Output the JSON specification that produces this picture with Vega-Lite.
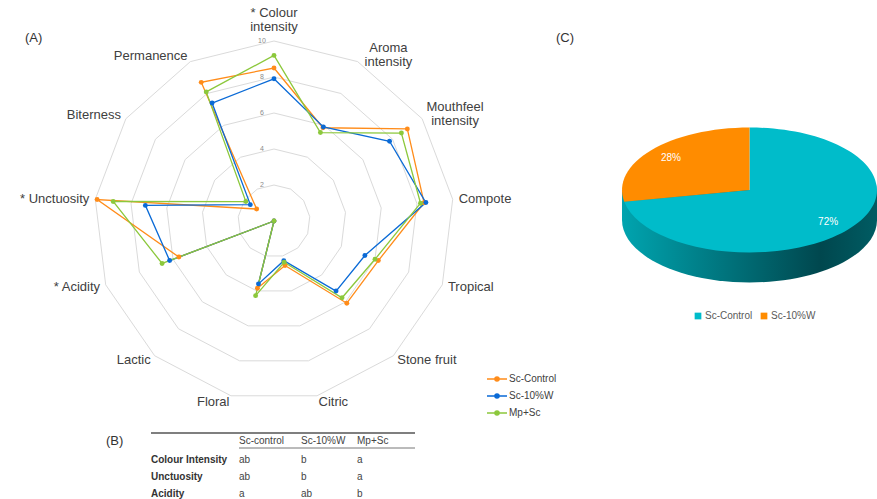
{
 "$schema": "https://vega.github.io/schema/vega-lite/v6.json",
 "padding": 0,
 "autosize": {"type": "pad"},
 "background": "#ffffff",
 "config": {"view": {"stroke": null}, "font": "Liberation Sans"},
 "datasets": {
  "scores": [
   {"sample": "Sc-Control", "idx": 0, "attr": "Colour intensity", "value": 8.5},
   {"sample": "Sc-Control", "idx": 1, "attr": "Aroma intensity", "value": 5.85},
   {"sample": "Sc-Control", "idx": 2, "attr": "Mouthfeel intensity", "value": 9.0},
   {"sample": "Sc-Control", "idx": 3, "attr": "Compote", "value": 8.4},
   {"sample": "Sc-Control", "idx": 4, "attr": "Tropical", "value": 6.2},
   {"sample": "Sc-Control", "idx": 5, "attr": "Stone fruit", "value": 6.1},
   {"sample": "Sc-Control", "idx": 6, "attr": "Citric", "value": 2.55},
   {"sample": "Sc-Control", "idx": 7, "attr": "Floral", "value": 3.85},
   {"sample": "Sc-Control", "idx": 8, "attr": "Lactic", "value": 0},
   {"sample": "Sc-Control", "idx": 9, "attr": "Acidity", "value": 5.65},
   {"sample": "Sc-Control", "idx": 10, "attr": "Unctuosity", "value": 9.9},
   {"sample": "Sc-Control", "idx": 11, "attr": "Biterness", "value": 1.17},
   {"sample": "Sc-Control", "idx": 12, "attr": "Permanence", "value": 8.7},
   {"sample": "Sc-10%W", "idx": 0, "attr": "Colour intensity", "value": 7.9},
   {"sample": "Sc-10%W", "idx": 1, "attr": "Aroma intensity", "value": 5.9},
   {"sample": "Sc-10%W", "idx": 2, "attr": "Mouthfeel intensity", "value": 7.8},
   {"sample": "Sc-10%W", "idx": 3, "attr": "Compote", "value": 8.5},
   {"sample": "Sc-10%W", "idx": 4, "attr": "Tropical", "value": 5.4},
   {"sample": "Sc-10%W", "idx": 5, "attr": "Stone fruit", "value": 5.2},
   {"sample": "Sc-10%W", "idx": 6, "attr": "Citric", "value": 2.27},
   {"sample": "Sc-10%W", "idx": 7, "attr": "Floral", "value": 3.6},
   {"sample": "Sc-10%W", "idx": 8, "attr": "Lactic", "value": 0},
   {"sample": "Sc-10%W", "idx": 9, "attr": "Acidity", "value": 6.2},
   {"sample": "Sc-10%W", "idx": 10, "attr": "Unctuosity", "value": 7.2},
   {"sample": "Sc-10%W", "idx": 11, "attr": "Biterness", "value": 1.6},
   {"sample": "Sc-10%W", "idx": 12, "attr": "Permanence", "value": 7.4},
   {"sample": "Mp+Sc", "idx": 0, "attr": "Colour intensity", "value": 9.2},
   {"sample": "Mp+Sc", "idx": 1, "attr": "Aroma intensity", "value": 5.55},
   {"sample": "Mp+Sc", "idx": 2, "attr": "Mouthfeel intensity", "value": 8.6},
   {"sample": "Mp+Sc", "idx": 3, "attr": "Compote", "value": 8.2},
   {"sample": "Mp+Sc", "idx": 4, "attr": "Tropical", "value": 6.0},
   {"sample": "Mp+Sc", "idx": 5, "attr": "Stone fruit", "value": 5.7},
   {"sample": "Mp+Sc", "idx": 6, "attr": "Citric", "value": 2.36},
   {"sample": "Mp+Sc", "idx": 7, "attr": "Floral", "value": 4.27},
   {"sample": "Mp+Sc", "idx": 8, "attr": "Lactic", "value": 0},
   {"sample": "Mp+Sc", "idx": 9, "attr": "Acidity", "value": 6.65},
   {"sample": "Mp+Sc", "idx": 10, "attr": "Unctuosity", "value": 9.0},
   {"sample": "Mp+Sc", "idx": 11, "attr": "Biterness", "value": 1.9},
   {"sample": "Mp+Sc", "idx": 12, "attr": "Permanence", "value": 8.1}
  ],
  "cats": [
   {"idx": 0, "label": "* Colour\nintensity"},
   {"idx": 1, "label": "Aroma\nintensity"},
   {"idx": 2, "label": "Mouthfeel\nintensity"},
   {"idx": 3, "label": "Compote"},
   {"idx": 4, "label": "Tropical"},
   {"idx": 5, "label": "Stone fruit"},
   {"idx": 6, "label": "Citric"},
   {"idx": 7, "label": "Floral"},
   {"idx": 8, "label": "Lactic"},
   {"idx": 9, "label": "* Acidity"},
   {"idx": 10, "label": "* Unctuosity"},
   {"idx": 11, "label": "Biterness"},
   {"idx": 12, "label": "Permanence"}
  ],
  "tbl": [
   {"row": "Colour Intensity", "Sc-control": "ab", "Sc-10%W": "b", "Mp+Sc": "a"},
   {"row": "Unctuosity", "Sc-control": "ab", "Sc-10%W": "b", "Mp+Sc": "a"},
   {"row": "Acidity", "Sc-control": "a", "Sc-10%W": "ab", "Mp+Sc": "b"}
  ],
  "pie": [
   {"strain": "Sc-Control", "pct": 72},
   {"strain": "Sc-10%W", "pct": 28}
  ]
 },
 "bounds": "flush",
 "spacing": 0,
 "columns": 2,
 "resolve": {"scale": {"color": "independent", "x": "independent", "y": "independent"}, "legend": {"color": "independent"}},
 "concat": [
  {
   "width": 555,
   "height": 420,
   "title": {"text": "(A)", "anchor": "start", "frame": "group", "orient": "top", "offset": 0, "dx": 25, "dy": 51, "baseline": "middle", "fontSize": 13, "fontWeight": "normal", "color": "#333333"},
   "layer": [
    {
     "data": {"name": "cats"},
     "transform": [
      {"calculate": "[2,4,6,8,10]", "as": "lv"},
      {"flatten": ["lv"]},
      {"calculate": "2*PI*datum.idx/13", "as": "a"},
      {"calculate": "datum.lv*sin(datum.a)", "as": "x"},
      {"calculate": "datum.lv*cos(datum.a)", "as": "y"}
     ],
     "mark": {"type": "line", "interpolate": "linear-closed", "color": "#DADADA", "strokeWidth": 1},
     "encoding": {
      "x": {"field": "x", "type": "quantitative", "scale": {"domain": [-15.2222, 15.6111], "nice": false, "zero": false}, "axis": null},
      "y": {"field": "y", "type": "quantitative", "scale": {"domain": [-11.0556, 12.2778], "nice": false, "zero": false}, "axis": null},
      "detail": {"field": "lv", "type": "nominal"},
      "order": {"field": "idx", "type": "quantitative"}
     }
    },
    {
     "data": {"name": "cats"},
     "transform": [
      {"filter": "datum.idx == 0"},
      {"calculate": "[2,4,6,8,10]", "as": "lv"},
      {"flatten": ["lv"]}
     ],
     "mark": {"type": "text", "dx": -12, "align": "center", "baseline": "middle", "fontSize": 7, "color": "#8a8a8a"},
     "encoding": {
      "x": {"datum": 0, "type": "quantitative"},
      "y": {"field": "lv", "type": "quantitative"},
      "text": {"field": "lv", "type": "quantitative"}
     }
    },
    {
     "data": {"name": "cats"},
     "transform": [
      {"calculate": "2*PI*datum.idx/13", "as": "a"},
      {"calculate": "sin(datum.a)", "as": "sx"},
      {"calculate": "10.333*sin(datum.a)", "as": "lx"},
      {"calculate": "10.333*cos(datum.a)", "as": "ly"},
      {"filter": "datum.sx > 0.2 && indexof(datum.label, '\\n') < 0"}
     ],
     "mark": {"type": "text", "align": "left", "baseline": "middle", "fontSize": 13, "color": "#404040", "lineBreak": "\n", "lineHeight": 13},
     "encoding": {
      "x": {"field": "lx", "type": "quantitative"},
      "y": {"field": "ly", "type": "quantitative"},
      "text": {"field": "label", "type": "nominal"}
     }
    },
    {
     "data": {"name": "cats"},
     "transform": [
      {"calculate": "2*PI*datum.idx/13", "as": "a"},
      {"calculate": "sin(datum.a)", "as": "sx"},
      {"calculate": "10.333*sin(datum.a)", "as": "lx"},
      {"calculate": "10.333*cos(datum.a)", "as": "ly"},
      {"filter": "datum.sx > 0.2 && indexof(datum.label, '\\n') >= 0"}
     ],
     "mark": {"type": "text", "align": "center", "dx": 28, "dy": -8, "baseline": "middle", "fontSize": 13, "color": "#404040", "lineBreak": "\n", "lineHeight": 14},
     "encoding": {
      "x": {"field": "lx", "type": "quantitative"},
      "y": {"field": "ly", "type": "quantitative"},
      "text": {"field": "label", "type": "nominal"}
     }
    },
    {
     "data": {"name": "cats"},
     "transform": [
      {"calculate": "2*PI*datum.idx/13", "as": "a"},
      {"calculate": "sin(datum.a)", "as": "sx"},
      {"calculate": "10.333*sin(datum.a)", "as": "lx"},
      {"calculate": "10.333*cos(datum.a)", "as": "ly"},
      {"filter": "datum.sx < -0.2"}
     ],
     "mark": {"type": "text", "align": "right", "baseline": "middle", "fontSize": 13, "color": "#404040", "lineBreak": "\n", "lineHeight": 13},
     "encoding": {
      "x": {"field": "lx", "type": "quantitative"},
      "y": {"field": "ly", "type": "quantitative"},
      "text": {"field": "label", "type": "nominal"}
     }
    },
    {
     "data": {"name": "cats"},
     "transform": [
      {"calculate": "2*PI*datum.idx/13", "as": "a"},
      {"calculate": "sin(datum.a)", "as": "sx"},
      {"calculate": "10.333*sin(datum.a)", "as": "lx"},
      {"calculate": "10.333*cos(datum.a)", "as": "ly"},
      {"filter": "abs(datum.sx) <= 0.2"}
     ],
     "mark": {"type": "text", "align": "center", "baseline": "bottom", "dy": -15, "fontSize": 13, "color": "#404040", "lineBreak": "\n", "lineHeight": 14},
     "encoding": {
      "x": {"field": "lx", "type": "quantitative"},
      "y": {"field": "ly", "type": "quantitative"},
      "text": {"field": "label", "type": "nominal"}
     }
    },
    {
     "data": {"name": "scores"},
     "transform": [
      {"calculate": "2*PI*datum.idx/13", "as": "a"},
      {"calculate": "datum.value*sin(datum.a)", "as": "x"},
      {"calculate": "datum.value*cos(datum.a)", "as": "y"}
     ],
     "mark": {"type": "line", "interpolate": "linear-closed", "strokeWidth": 1.3},
     "encoding": {
      "x": {"field": "x", "type": "quantitative"},
      "y": {"field": "y", "type": "quantitative"},
      "order": {"field": "idx", "type": "quantitative"},
      "color": {
       "field": "sample", "type": "nominal",
       "scale": {"domain": ["Sc-Control", "Sc-10%W", "Mp+Sc"], "range": ["#FF8C1A", "#0A6AD6", "#8CC83C"]},
       "legend": {"orient": "none", "legendX": 486, "legendY": 368, "title": null, "symbolType": "M-1,0L1,0M-0.2,0A0.2,0.2 0 1,1 0.2,0A0.2,0.2 0 1,1 -0.2,0Z", "symbolSize": 400, "symbolStrokeWidth": 1.6, "labelFontSize": 10, "labelColor": "#404040", "labelOffset": 1, "rowPadding": -3}
      }
     }
    },
    {
     "data": {"name": "scores"},
     "transform": [
      {"calculate": "2*PI*datum.idx/13", "as": "a"},
      {"calculate": "datum.value*sin(datum.a)", "as": "x"},
      {"calculate": "datum.value*cos(datum.a)", "as": "y"}
     ],
     "mark": {"type": "point", "filled": true, "opacity": 1, "size": 24},
     "encoding": {
      "x": {"field": "x", "type": "quantitative"},
      "y": {"field": "y", "type": "quantitative"},
      "color": {"field": "sample", "type": "nominal", "legend": null}
     }
    }
   ]
  },
  {
   "width": 322,
   "height": 380,
   "title": {"text": "(C)", "anchor": "start", "frame": "group", "orient": "top", "offset": 0, "dx": 1, "dy": 51, "baseline": "middle", "fontSize": 13, "fontWeight": "normal", "color": "#333333"},
   "data": {"name": "pie"},
   "transform": [
    {"window": [{"op": "sum", "field": "pct", "as": "cum"}], "frame": [null, 0]},
    {"calculate": "datum.cum - datum.pct", "as": "start"},
    {"calculate": "2*PI*datum.start/100", "as": "a0"},
    {"calculate": "2*PI*datum.cum/100", "as": "a1"},
    {"calculate": "(datum.a0 + datum.a1)/2", "as": "am"},
    {"calculate": "round(10000*sin(datum.a0))/10000", "as": "x0"},
    {"calculate": "round(-4900*cos(datum.a0))/10000", "as": "y0"},
    {"calculate": "round(10000*sin(datum.a1))/10000", "as": "x1"},
    {"calculate": "round(-4900*cos(datum.a1))/10000", "as": "y1"},
    {"calculate": "'M0,0L' + datum.x0 + ',' + datum.y0 + 'A1,0.49 0 ' + (datum.pct > 50 ? 1 : 0) + ',1 ' + datum.x1 + ',' + datum.y1 + 'Z'", "as": "wedge"},
    {"calculate": "0.8*sin(datum.am)", "as": "lx"},
    {"calculate": "-0.8*0.49*cos(datum.am)", "as": "ly"},
    {"calculate": "datum.pct + '%'", "as": "plabel"}
   ],
   "layer": [
    {
     "transform": [{"filter": "datum.strain == 'Sc-Control'"}],
     "mark": {"type": "point", "filled": true, "opacity": 1, "size": 65025, "strokeWidth": 0, "shape": "M-1,0L-1,0.235A1,0.49 0 0,0 1,0.235L1,0Z",
      "color": {"gradient": "linear", "x1": 0, "y1": 0, "x2": 1, "y2": 0, "stops": [{"offset": 0, "color": "#00A4AF"}, {"offset": 0.78, "color": "#00474E"}, {"offset": 1, "color": "#005C63"}]}},
     "encoding": {
      "x": {"datum": 0, "type": "quantitative", "scale": {"domain": [-1.5255, 1], "nice": false, "zero": false}, "axis": null},
      "y": {"datum": 0, "type": "quantitative", "scale": {"domain": [-1.4902, 1.4902], "nice": false, "zero": false, "reverse": true}, "axis": null}
     }
    },
    {
     "mark": {"type": "point", "filled": true, "opacity": 1, "size": 65025, "strokeWidth": 0},
     "encoding": {
      "x": {"datum": 0, "type": "quantitative"},
      "y": {"datum": 0, "type": "quantitative"},
      "shape": {"field": "wedge", "type": "nominal", "scale": null, "legend": null},
      "color": {
       "field": "strain", "type": "nominal",
       "scale": {"domain": ["Sc-Control", "Sc-10%W"], "range": ["#00BCCA", "#FF8C00"]},
       "legend": {"orient": "none", "legendX": 138, "legendY": 311, "direction": "horizontal", "title": null, "symbolType": "square", "symbolSize": 45, "labelFontSize": 10, "labelColor": "#595959", "labelOffset": 2, "columnPadding": 6}
      }
     }
    },
    {
     "mark": {"type": "text", "color": "#ffffff", "fontSize": 10, "align": "center", "baseline": "middle"},
     "encoding": {
      "x": {"field": "lx", "type": "quantitative"},
      "y": {"field": "ly", "type": "quantitative"},
      "text": {"field": "plabel", "type": "nominal"}
     }
    }
   ]
  },
  {
   "width": 555,
   "height": 79,
   "title": {"text": "(B)", "anchor": "start", "frame": "group", "orient": "top", "offset": 0, "dx": 106, "dy": 34, "baseline": "middle", "fontSize": 13, "fontWeight": "normal", "color": "#333333"},
   "data": {"name": "tbl"},
   "transform": [
    {"calculate": "indexof(['top','header','hline','Colour Intensity','Unctuosity','Acidity'], datum.row)", "as": "ri"}
   ],
   "layer": [
    {
     "transform": [{"filter": "datum.ri == 3"}],
     "mark": {"type": "rule", "color": "#555555", "strokeWidth": 1.3},
     "encoding": {
      "x": {"datum": 0, "type": "quantitative", "scale": {"domain": [0, 1, 2, 3, 4], "range": [151, 239, 301, 357, 415], "nice": false, "zero": false}, "axis": null},
      "x2": {"datum": 4},
      "y": {"datum": 0, "type": "quantitative", "scale": {"domain": [0, 1, 2, 3, 4, 5], "range": [13, 21, 28, 40, 57, 74], "nice": false, "zero": false}, "axis": null}
     }
    },
    {
     "transform": [{"filter": "datum.ri == 3"}],
     "mark": {"type": "rule", "color": "#666666", "strokeWidth": 0.9},
     "encoding": {
      "x": {"datum": 1, "type": "quantitative"},
      "x2": {"datum": 4},
      "y": {"datum": 2, "type": "quantitative"}
     }
    },
    {
     "mark": {"type": "text", "align": "left", "baseline": "middle", "fontSize": 10, "fontWeight": "bold", "color": "#333333"},
     "encoding": {
      "x": {"datum": 0, "type": "quantitative"},
      "y": {"field": "ri", "type": "quantitative"},
      "text": {"field": "row", "type": "nominal"}
     }
    },
    {
     "transform": [
      {"fold": ["Sc-control", "Sc-10%W", "Mp+Sc"], "as": ["col", "val"]},
      {"calculate": "indexof(['label','Sc-control','Sc-10%W','Mp+Sc','end'], datum.col)", "as": "ci"}
     ],
     "mark": {"type": "text", "align": "left", "baseline": "middle", "fontSize": 10, "color": "#444444"},
     "encoding": {
      "x": {"field": "ci", "type": "quantitative"},
      "y": {"field": "ri", "type": "quantitative"},
      "text": {"field": "val", "type": "nominal"}
     }
    },
    {
     "transform": [
      {"filter": "datum.ri == 3"},
      {"fold": ["Sc-control", "Sc-10%W", "Mp+Sc"], "as": ["col", "val"]},
      {"calculate": "indexof(['label','Sc-control','Sc-10%W','Mp+Sc','end'], datum.col)", "as": "ci"}
     ],
     "mark": {"type": "text", "align": "left", "baseline": "middle", "fontSize": 10, "color": "#444444"},
     "encoding": {
      "x": {"field": "ci", "type": "quantitative"},
      "y": {"datum": 1, "type": "quantitative"},
      "text": {"field": "col", "type": "nominal"}
     }
    }
   ]
  }
 ]
}
